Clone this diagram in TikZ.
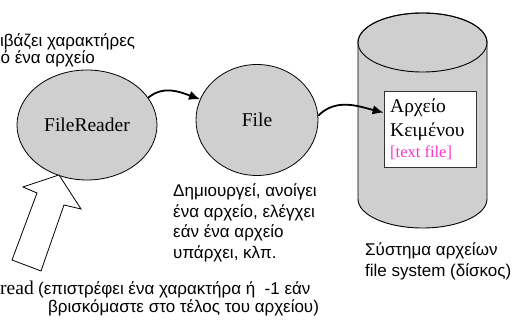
\documentclass[tikz,border=0pt]{standalone}
\usepackage{fontspec}
\setmainfont{Liberation Serif}
\newfontfamily\sansgr{Liberation Sans}
\usetikzlibrary{shapes.geometric,arrows.meta}
\definecolor{cgray}{RGB}{207,207,207}
\definecolor{cmag}{RGB}{255,51,204}
\tikzset{
  bubble/.style={ellipse, draw=black, line width=0.8pt, fill=cgray, inner sep=0pt,
    font=\fontsize{19.5}{23}\selectfont},
  conn/.style={line width=1.8pt, -{Latex[length=11pt,width=9.5pt]}},
  stxt/.style={inner sep=0pt, anchor=base west, font=\sansgr\fontsize{17}{20}\selectfont},
  rtxt/.style={inner sep=0pt, anchor=base west, font=\fontsize{19.5}{23}\selectfont},
  mtxt/.style={inner sep=0pt, anchor=base west, text=cmag, font=\fontsize{16.5}{20}\selectfont},
}
\begin{document}
\begin{tikzpicture}[x=1pt,y=1pt]
\useasboundingbox (0,0) rectangle (520,323);
% cylinder (file system)
\draw[line width=0.9pt, fill=cgray] (358,280.5) -- (358,124)
  arc[start angle=180, end angle=360, x radius=64.5, y radius=29]
  -- (487,280.5)
  arc[start angle=0, end angle=180, x radius=64.5, y radius=29.5] -- cycle;
\draw[line width=0.9pt] (422.5,280.5) ellipse [x radius=64.5, y radius=29.5];
% text file box
\node[draw=black!80, line width=0.8pt, fill=white, minimum width=92pt, minimum height=76pt, inner sep=0pt] (box) at (430,194) {};
\node[rtxt] (t1) at (390,210) {Αρχείο};
\node[rtxt] (t2) at (390,186.5) {Κειμένου};
\node[mtxt] (t3) at (390,165.5) {[text file]};
% bubbles
\node[bubble, minimum width=140pt, minimum height=110pt] (fr) at (87,198) {\raisebox{-1.5pt}{FileReader}};
\node[bubble, minimum width=122pt, minimum height=111pt] (file) at (257,203) {File};
% connectors
\draw[conn] (fr.24) to[out=40,in=160] (file.160);
\draw[conn] (file.4) to[out=45,in=166] ([yshift=-22pt]box.north west);
% hollow block arrow
\draw[line width=0.8pt, fill=white, line join=miter] (59,148) -- (81,114) -- (64,118) -- (41,52) -- (12,63) -- (37,130) -- (23,136) -- cycle;
% texts
\node[stxt] (a1) at (0,276.5) {ιβάζει χαρακτήρες};
\node[stxt] (a2) at (0.5,259) {ό ένα αρχείο};
\node[stxt] (b1) at (173,126) {Δημιουργεί, ανοίγει};
\node[stxt] (b2) at (173,105.5) {ένα αρχείο, ελέγχει};
\node[stxt] (b3) at (173,85) {εάν ένα αρχείο};
\node[stxt] (b4) at (173,64.5) {υπάρχει, κλπ.};
\node[stxt] (c1) at (365,67.5) {Σύστημα αρχείων};
\node[stxt] (c2) at (365,46.5) {file system (δίσκος)};
\node[rtxt] (r0) at (0,28) {read};
\node[stxt] (r1) at (38,28) {(επιστρέφει ένα χαρακτήρα ή \ -1 εάν};
\node[stxt] (r2) at (48,10) {βρισκόμαστε στο τέλος του αρχείου)};
\end{tikzpicture}
\end{document}
